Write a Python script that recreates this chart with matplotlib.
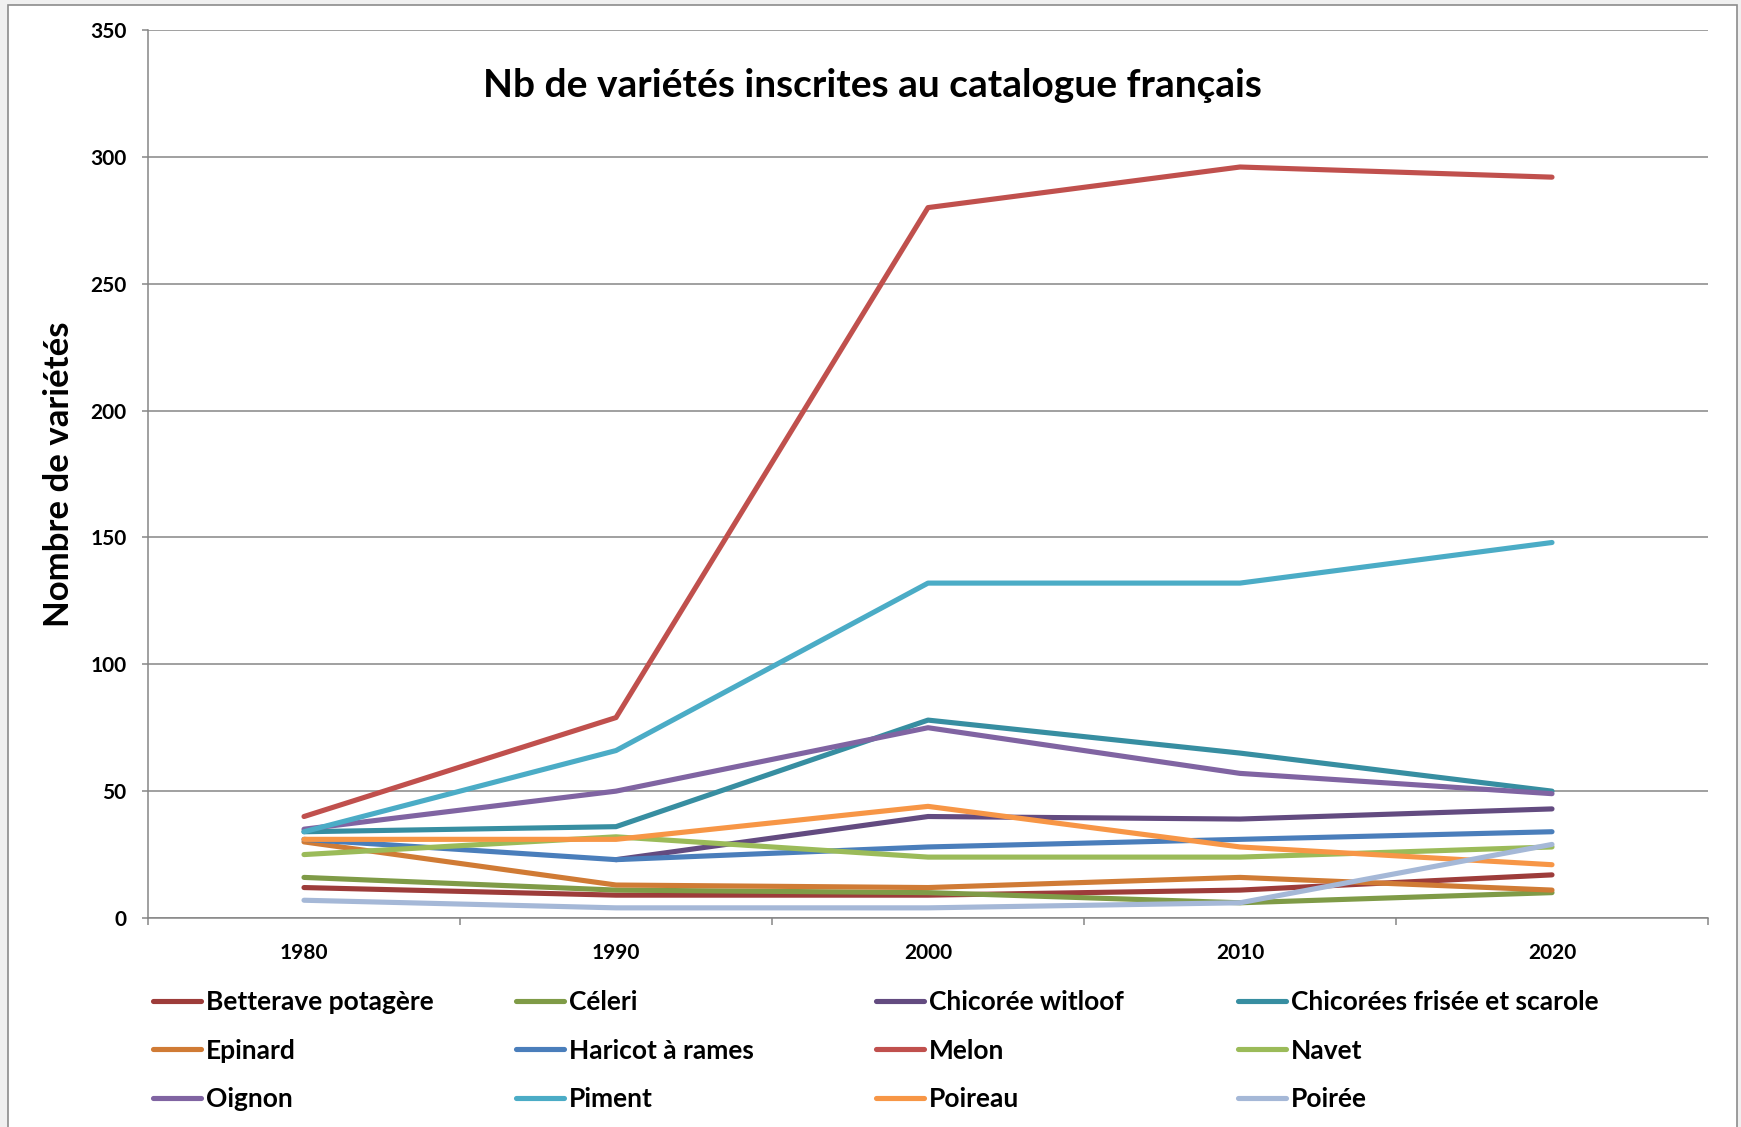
import matplotlib
matplotlib.use("Agg")
import matplotlib.pyplot as plt
from matplotlib.patches import Rectangle
from matplotlib.ticker import FixedLocator
import numpy as np

###############################################################################
# Donnees
###############################################################################
annees = [1980, 1990, 2000, 2010, 2020]

betterave = [12, 9, 9, 11, 17]
celeri = [16, 11, 10, 6, 10]
witloof = [np.nan, 23, 40, 39, 43]
frisee = [34, 36, 78, 65, 50]
epinard = [30, 13, 12, 16, 11]
haricot = [31, 23, 28, 31, 34]
melon = [40, 79, 280, 296, 292]
navet = [25, 32, 24, 24, 28]
oignon = [35, 50, 75, 57, 49]
piment = [34, 66, 132, 132, 148]
poireau = [31, 31, 44, 28, 21]
poiree = [7, 4, 4, 6, 29]

noms = ["Betterave potagère", "Céleri", "Chicorée witloof",
        "Chicorées frisée et scarole", "Epinard", "Haricot à rames",
        "Melon", "Navet", "Oignon", "Piment", "Poireau", "Poirée"]
series = [betterave, celeri, witloof, frisee, epinard, haricot,
          melon, navet, oignon, piment, poireau, poiree]
couleurs = ["#9D3C3A", "#7F9B47", "#634B80", "#378EA1", "#D07B35", "#4A7EBB",
            "#C0504D", "#9BBB59", "#8064A2", "#4BACC6", "#F79646", "#A5B8D7"]

###############################################################################
# Figure
###############################################################################
plt.rcParams['font.family'] = ['Lato', 'DejaVu Sans']
plt.rcParams['font.weight'] = 'bold'

W, H = 1741, 1127
fig = plt.figure(figsize=(W / 100, H / 100), dpi=100, facecolor="#F0F0F0")
# cadre blanc du graphique
cadre = Rectangle((8 / W, -0.05), (1737 - 8) / W, 1 - 5 / H + 0.05,
                  transform=fig.transFigure, facecolor="white",
                  edgecolor="#8C8C8C", linewidth=1.2, zorder=-10)
fig.patches.append(cadre)

x0, x1, y0, y1 = 148, 1708, 30, 918
ax = fig.add_axes([x0 / W, 1 - y1 / H, (x1 - x0) / W, (y1 - y0) / H])
ax.set_facecolor("none")

x = np.arange(len(annees))
lignes = []
for nom, s, c in zip(noms, series, couleurs):
    l, = ax.plot(x, s, color=c, lw=3.7, solid_capstyle="round",
                 solid_joinstyle="round", label=nom)
    lignes.append(l)

ax.set_xlim(-0.5, len(annees) - 0.5)
ax.set_ylim(0, 350)
ax.set_yticks(np.arange(0, 351, 50))
ax.set_xticks(x)
ax.set_xticklabels([str(a) for a in annees])
ax.xaxis.set_minor_locator(FixedLocator(np.arange(-0.5, len(annees), 1.0)))

ax.grid(axis="y", color="#868686", lw=1.1)
ax.set_axisbelow(True)
for side in ["top", "right"]:
    ax.spines[side].set_visible(False)
for side in ["left", "bottom"]:
    ax.spines[side].set_color("#868686")
    ax.spines[side].set_linewidth(1.1)

ax.tick_params(axis="y", length=4.5, width=1.1, color="#868686", pad=11,
               labelsize=15)
ax.tick_params(axis="x", which="major", length=0, pad=18, labelsize=15)
ax.tick_params(axis="x", which="minor", length=5, width=1.1, color="#868686")

ax.set_ylabel("Nombre de variétés", fontsize=25, fontweight="bold")
ax.yaxis.set_label_coords(-0.047, 0.5)

ax.text(0.4647, 0.938, "Nb de variétés inscrites au catalogue français",
        transform=ax.transAxes, ha="center", va="center", fontsize=28,
        fontweight="bold")

# legende : 4 colonnes regulierement espacees
col_x = [153, 516, 876, 1238]
for j in range(4):
    hs = [lignes[j], lignes[j + 4], lignes[j + 8]]
    leg = fig.legend(hs, [h.get_label() for h in hs], loc="upper left",
                     bbox_to_anchor=(col_x[j] / W, 1 - 990 / H),
                     frameon=False, borderpad=0, borderaxespad=0,
                     handlelength=1.82, handletextpad=0.17, labelspacing=0.93,
                     prop={"size": 19, "weight": "bold"})

fig.savefig("out.png", dpi=100, facecolor=fig.get_facecolor())
